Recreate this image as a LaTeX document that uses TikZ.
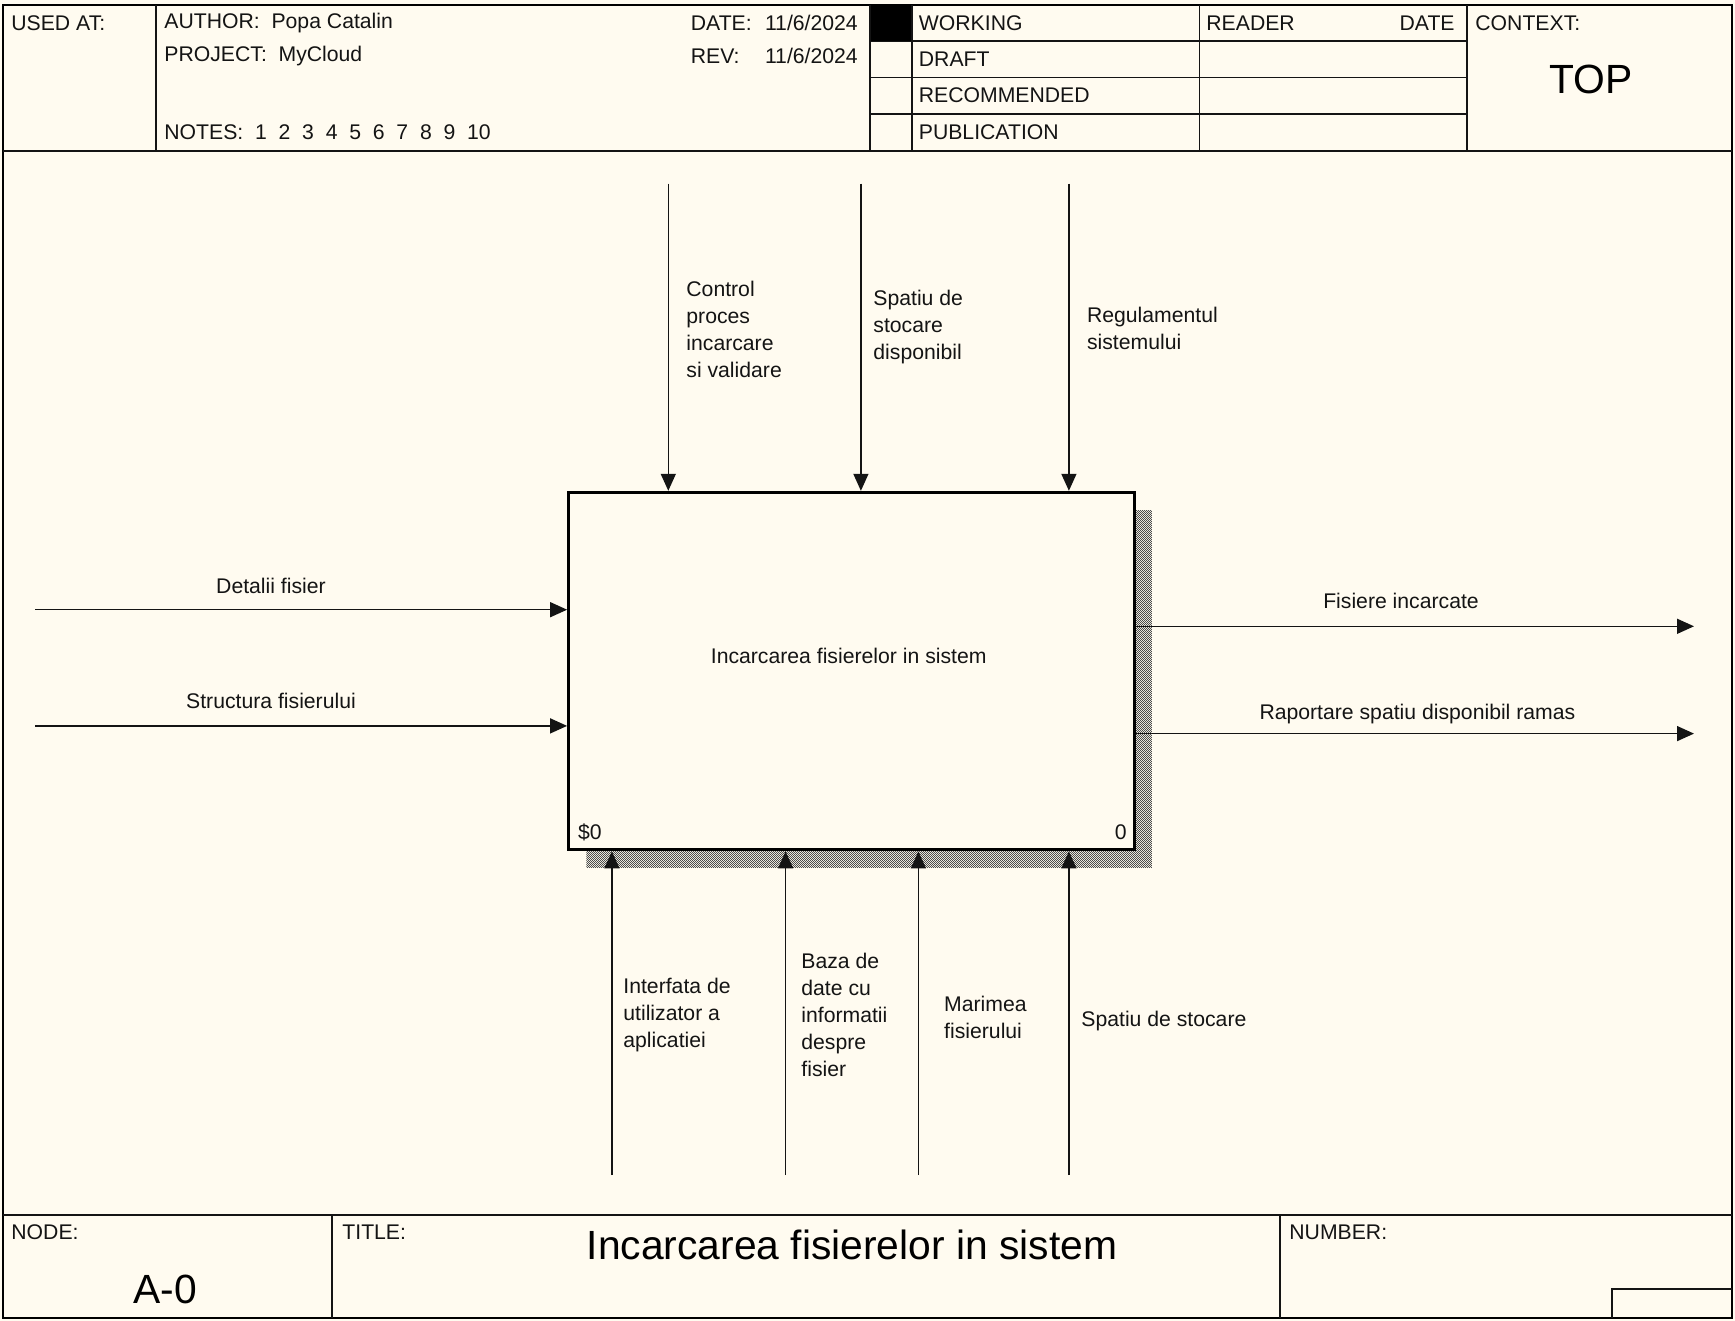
\documentclass[tikz,border=0pt]{standalone}
\usepackage{fontspec}
\setmainfont{Liberation Sans}
\usetikzlibrary{arrows.meta,patterns.meta}
\definecolor{paper}{RGB}{255,251,240}
\definecolor{ink}{RGB}{20,20,20}
\pgfdeclarepattern{name=finecheck, type=uncolored,
  bottom left=\pgfpointorigin, top right=\pgfpoint{1.2pt}{1.2pt},
  tile size=\pgfpoint{1.2pt}{1.2pt},
  code={\pgfpathrectangle{\pgfpointorigin}{\pgfpoint{0.6pt}{0.6pt}}
        \pgfpathrectangle{\pgfpoint{0.6pt}{0.6pt}}{\pgfpoint{0.6pt}{0.6pt}}
        \pgfusepath{fill}}}
\begin{document}
\begin{tikzpicture}[x=0.5pt,y=-0.5pt,
  lbl/.style={inner sep=0pt, font=\fontsize{10.6}{13.5}\selectfont, align=left, text=ink},
  hdr/.style={inner sep=0pt, anchor=west, font=\fontsize{10.6}{12}\selectfont, text=ink},
  big/.style={inner sep=0pt, font=\fontsize{20.4}{24}\selectfont},
  flow/.style={line width=0.75pt, draw=ink, -{Triangle[length=8.5pt,width=7.5pt]}},
  rule/.style={line width=0.75pt, draw=ink},
  procbox/.style={draw=black, line width=1.6pt, fill=paper, minimum width=282.75pt, minimum height=178.7pt, inner sep=0pt}
]
\useasboundingbox[fill=paper] (0,0) rectangle (1735,1321);
% outer frame
\draw[line width=1pt] (3,5) rectangle (1732,1318);
% header
\draw[rule] (3,151) -- (1732,151);
\draw[rule] (156,5) -- (156,151);
\draw[rule] (870,5) -- (870,151);
\draw[rule] (912,5) -- (912,151);
\draw[rule] (1199.5,5) -- (1199.5,151);
\draw[rule] (1467,5) -- (1467,151);
\draw[rule] (870,41) -- (1467,41);
\draw[rule] (870,77.5) -- (1467,77.5);
\draw[rule] (870,114) -- (1467,114);
\fill[black] (871,5) rectangle (911,41);
\node[hdr] (usedat) at (11,23) {USED AT:};
\node[hdr] (author) at (164,23) {AUTHOR:\ \ Popa Catalin};
\node[hdr] (project) at (164,56) {PROJECT:\ \ MyCloud};
\node[hdr] (notes) at (164,132) {NOTES:\ \ 1\ \ 2\ \ 3\ \ 4\ \ 5\ \ 6\ \ 7\ \ 8\ \ 9\ \ 10};
\node[hdr] (datel) at (690.5,23) {DATE:};
\node[hdr] (datev) at (764.6,23) {11/6/2024};
\node[hdr] (revl) at (690.5,56) {REV:};
\node[hdr] (revv) at (764.6,56) {11/6/2024};
\node[hdr] (working) at (918.5,23) {WORKING};
\node[hdr] (draft) at (918.5,59) {DRAFT};
\node[hdr] (recom) at (918.5,95.5) {RECOMMENDED};
\node[hdr] (publ) at (918.5,132) {PUBLICATION};
\node[hdr] (reader) at (1206,23) {READER};
\node[hdr, anchor=east] (rdate) at (1455,23) {DATE};
\node[hdr] (context) at (1475,23) {CONTEXT:};
\node[big] (top) at (1591,79.5) {TOP};
% footer
\draw[rule] (3,1215) -- (1732,1215);
\draw[rule] (332,1215) -- (332,1318);
\draw[rule] (1280,1215) -- (1280,1318);
\draw[rule] (1612,1318) -- (1612,1289) -- (1732,1289);
\node[hdr] (nodel) at (11,1232) {NODE:};
\node[big] (nodev) at (165,1289) {A-0};
\node[hdr] (titlel) at (342,1232) {TITLE:};
\node[big] (titlev) at (852,1244.5) {Incarcarea fisierelor in sistem};
\node[hdr] (numberl) at (1289,1232) {NUMBER:};
% shadow and box
\fill[pattern=finecheck, pattern color=black!70] (586.4,510.1) rectangle (1151.9,867.5);
\node[procbox] (box) at (851.45,671.1) {};
\node[lbl] (boxtext) at (848.7,655.5) {Incarcarea fisierelor in sistem};
\node[lbl, anchor=west] (cost) at (577.6,832) {\$0};
\node[lbl, anchor=east] (num) at (1127,832) {0};
% controls
\coordinate (c1) at (668.3,183.7);
\coordinate (c2) at (860.9,183.7);
\coordinate (c3) at (1068.9,183.7);
\draw[flow] (c1) -- (c1 |- box.north);
\draw[flow] (c2) -- (c2 |- box.north);
\draw[flow] (c3) -- (c3 |- box.north);
\node[lbl, anchor=west] (c1l) at (686,329) {Control\\proces\\incarcare\\si validare};
\node[lbl, anchor=west] (c2l) at (873,327.5) {Spatiu de\\stocare\\disponibil};
\node[lbl, anchor=west] (c3l) at (1086.6,328) {Regulamentul\\sistemului};
% inputs
\coordinate (i1) at (35.4,609.7);
\coordinate (i2) at (35.4,725.9);
\draw[flow] (i1) -- (i1 -| box.west);
\draw[flow] (i2) -- (i2 -| box.west);
\node[lbl] (i1l) at (271,586.3) {Detalii fisier};
\node[lbl] (i2l) at (271,701.4) {Structura fisierului};
% outputs
\coordinate (o1) at (1694,626.3);
\coordinate (o2) at (1694,733.6);
\draw[flow] (o1 -| box.east) -- (o1);
\draw[flow] (o2 -| box.east) -- (o2);
\node[lbl] (o1l) at (1401,601) {Fisiere incarcate};
\node[lbl] (o2l) at (1417.4,714.5) {Raportare spatiu disponibil ramas};
% mechanisms
\coordinate (m1) at (611.9,1175);
\coordinate (m2) at (785.6,1175);
\coordinate (m3) at (918.4,1175);
\coordinate (m4) at (1068.9,1175);
\draw[flow] (m1) -- (m1 |- box.south);
\draw[flow] (m2) -- (m2 |- box.south);
\draw[flow] (m3) -- (m3 |- box.south);
\draw[flow] (m4) -- (m4 |- box.south);
\node[lbl, anchor=west] (m1l) at (623,1015.5) {Interfata de\\utilizator a\\aplicatiei};
\node[lbl, anchor=west] (m2l) at (801,1014.5) {Baza de\\date cu\\informatii\\despre\\fisier};
\node[lbl, anchor=west] (m3l) at (943.8,1017) {Marimea\\fisierului};
\node[lbl, anchor=west] (m4l) at (1081,1021) {Spatiu de stocare};
\end{tikzpicture}
\end{document}
